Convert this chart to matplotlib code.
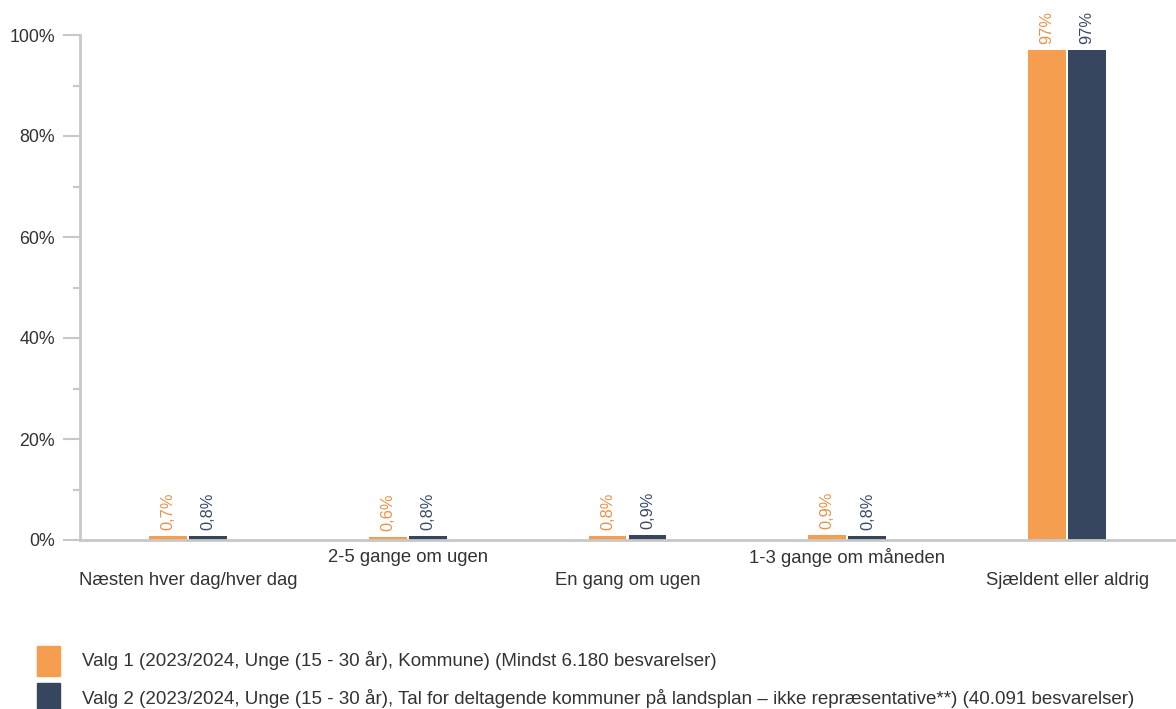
import matplotlib
matplotlib.use("Agg")
import matplotlib.pyplot as plt
import numpy as np
from matplotlib.patches import Rectangle

categories = ["Næsten hver dag/hver dag", "2-5 gange om ugen", "En gang om ugen",
              "1-3 gange om måneden", "Sjældent eller aldrig"]
valg1 = [0.7, 0.6, 0.8, 0.9, 97]
valg2 = [0.8, 0.8, 0.9, 0.8, 97]
label1 = ["0,7%", "0,6%", "0,8%", "0,9%", "97%"]
label2 = ["0,8%", "0,8%", "0,9%", "0,8%", "97%"]
series_names = ["Valg 1 (2023/2024, Unge (15 - 30 år), Kommune) (Mindst 6.180 besvarelser)",
                "Valg 2 (2023/2024, Unge (15 - 30 år), Tal for deltagende kommuner på landsplan – ikke repræsentative**) (40.091 besvarelser)"]
yticks = [0, 20, 40, 60, 80, 100]
ytick_labels = ["0%", "20%", "40%", "60%", "80%", "100%"]

plt.rcParams['font.family'] = ['Liberation Sans', 'DejaVu Sans']
c1, c2 = "#F59E4F", "#36465F"
lc1, lc2 = "#E8934A", "#3A4A68"
gray = "#C8C8C8"
txt = "#333333"

W, H = 1176, 709
fig = plt.figure(figsize=(W/100, H/100), dpi=100)
ax = fig.add_axes([80/W, 1-540/H, 1096/W, 505/H])
x = np.arange(len(categories))
bw = 0.172
gap = 0.005
ax.bar(x - bw/2 - gap, valg1, bw, color=c1)
ax.bar(x + bw/2 + gap, valg2, bw, color=c2)
for i in range(len(categories)):
    ax.text(x[i] - bw/2 - gap, valg1[i] + 1.2, label1[i], rotation=90, ha='center', va='bottom',
            color=lc1, fontsize=11.8)
    ax.text(x[i] + bw/2 + gap, valg2[i] + 1.2, label2[i], rotation=90, ha='center', va='bottom',
            color=lc2, fontsize=11.8)

ax.set_xlim(-0.491, 4.495)
ax.set_ylim(0, 100)
ax.set_yticks(yticks)
ax.set_yticklabels(ytick_labels, fontsize=12.8, color=txt)
ax.set_yticks(np.arange(10, 100, 20), minor=True)
ax.tick_params(axis='y', which='major', length=12, width=1.5, color=gray, pad=6)
ax.tick_params(axis='y', which='minor', length=5, width=1.5, color=gray)
ax.set_xticks([])
for s in ['top', 'right']:
    ax.spines[s].set_visible(False)
for s in ['left', 'bottom']:
    ax.spines[s].set_color(gray)
    ax.spines[s].set_linewidth(2)

for i, c in enumerate(categories):
    yoff = -0.035 if i % 2 == 1 else -0.08
    ax.text(x[i], yoff, c, transform=ax.get_xaxis_transform(), ha='center', va='center',
            fontsize=13.3, color=txt)

for j, (name, col) in enumerate(zip(series_names, [c1, c2])):
    ytop = 646 + j*37
    fig.patches.append(Rectangle((37/W, 1-(ytop+30)/H), 23/W, 30/H, transform=fig.transFigure,
                                 color=col, figure=fig))
    fig.text(82/W, 1-(ytop+15)/H, name, ha='left', va='center', fontsize=13.5, color=txt)

fig.savefig("out.png", dpi=100)
